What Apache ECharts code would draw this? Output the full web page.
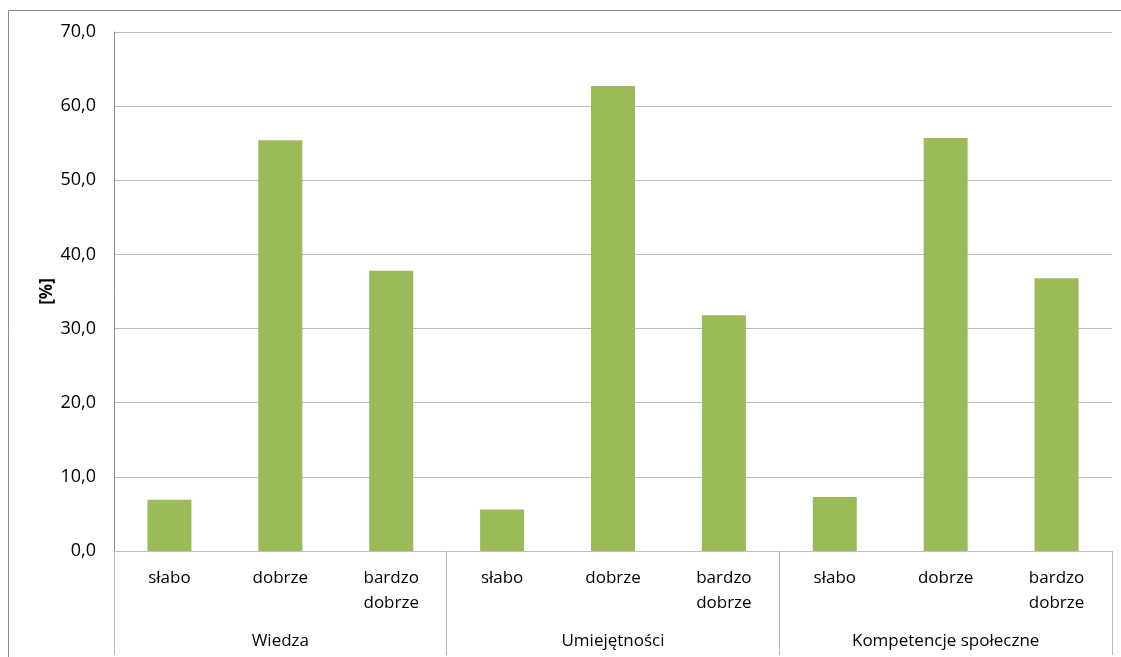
<!DOCTYPE html>
<html>
<head>
<meta charset="utf-8">
<script src="https://cdn.jsdelivr.net/npm/echarts@6/dist/echarts.min.js"></script>
<style>
  html, body { margin: 0; padding: 0; background: #fff; }
  #chart { width: 1121px; height: 657px; }
</style>
</head>
<body>
<div id="chart"></div>
<script>
// Ratings per skill area, in percent
const groups = ['Wiedza', 'Umiejętności', 'Kompetencje społeczne'];
const levels = ['słabo', 'dobrze', 'bardzo\ndobrze'];
const wiedza = [6.9, 55.4, 37.8];
const umiejetnosci = [5.6, 62.7, 31.8];
const kompetencje = [7.3, 55.7, 36.8];
const yTicks = { min: 0, max: 70, interval: 10 };

const categories = [];
groups.forEach(() => levels.forEach(l => categories.push(l)));
const values = [].concat(wiedza, umiejetnosci, kompetencje);

const font = '"Open Sans", "Noto Sans", sans-serif';
const chart = echarts.init(document.getElementById('chart'), null, { renderer: 'canvas' });

chart.setOption({
  animation: false,
  backgroundColor: '#fff',
  textStyle: { fontFamily: font },
  grid: { left: 114, right: 9, top: 32, bottom: 106 },
  graphic: [{
    type: 'rect',
    shape: { x: 8.5, y: 10.5, width: 1200, height: 800 },
    style: { fill: null, stroke: '#8c8c8c', lineWidth: 1 },
    silent: true
  }],
  xAxis: [{
    type: 'category',
    data: categories,
    position: 'bottom',
    axisLine: { show: true, lineStyle: { color: '#c0c0c0', width: 1 } },
    axisTick: { show: false },
    axisLabel: {
      color: '#000', fontSize: 17, fontFamily: font,
      margin: 15, lineHeight: 25, interval: 0, align: 'center'
    }
  }, {
    type: 'category',
    data: groups,
    position: 'bottom',
    axisLine: { show: false },
    axisTick: { show: true, length: 104, lineStyle: { color: '#b8b8b8', width: 1 } },
    axisLabel: { color: '#000', fontSize: 17, fontFamily: font, margin: 82, interval: 0 },
    splitLine: { show: false }
  }],
  yAxis: {
    type: 'value',
    min: yTicks.min, max: yTicks.max, interval: yTicks.interval,
    name: '[%]',
    nameLocation: 'middle',
    nameRotate: 90,
    nameGap: 58,
    nameMoveOverlap: false,
    nameTextStyle: { color: '#000', fontSize: 17, fontWeight: 'bold', fontFamily: font },
    axisLine: { show: true, lineStyle: { color: '#888888', width: 1 } },
    axisTick: { show: false },
    axisLabel: {
      color: '#000', fontSize: 18, fontFamily: font, margin: 18,
      formatter: v => v.toFixed(1).replace('.', ',')
    },
    splitLine: { show: true, lineStyle: { color: '#bdbdbd', width: 1 } }
  },
  series: [{
    type: 'bar',
    xAxisIndex: 0,
    data: values,
    barWidth: 44,
    itemStyle: { color: '#9BBB59' }
  }]
});
</script>
</body>
</html>
